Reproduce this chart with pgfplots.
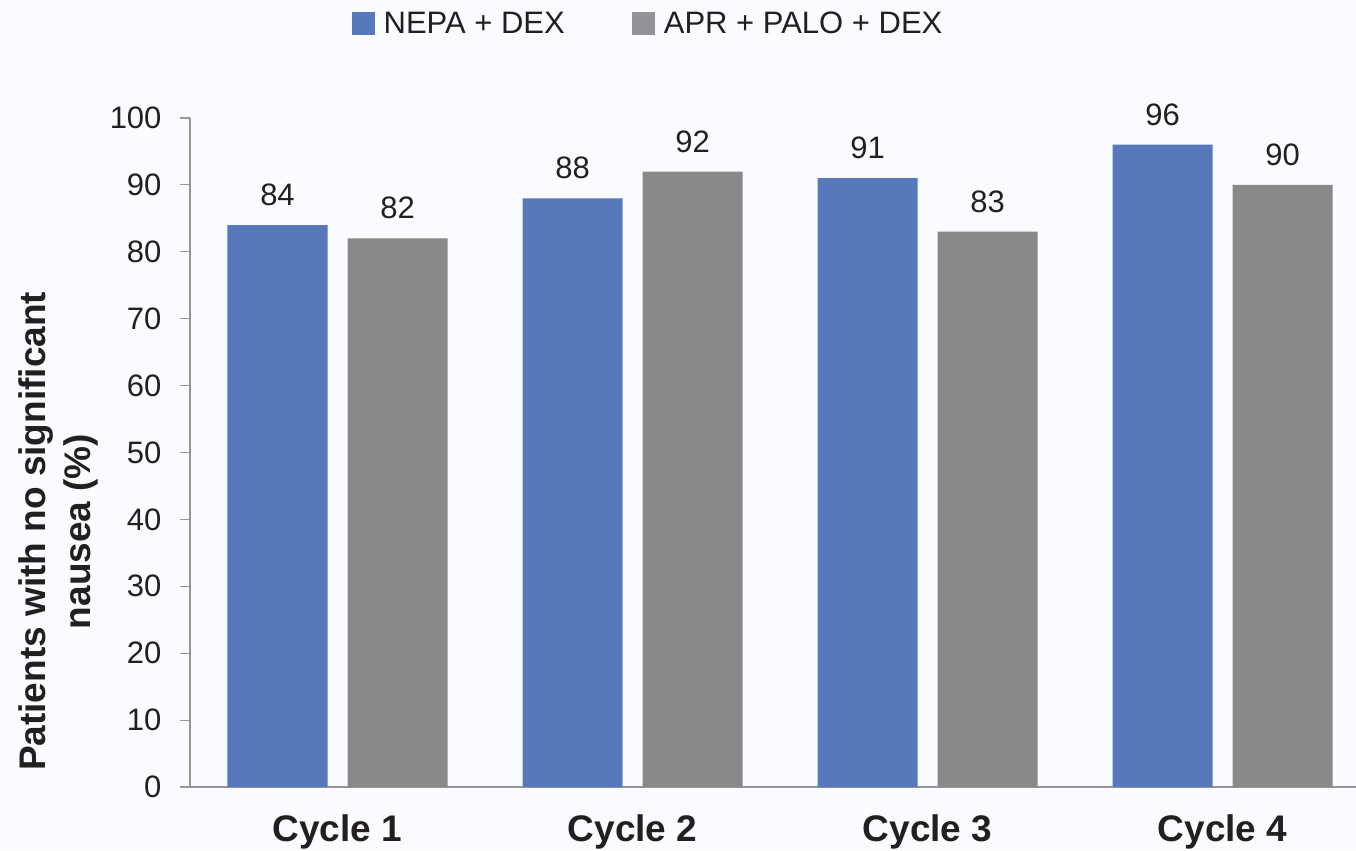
\documentclass[border=0pt]{standalone}
\usepackage{fontspec}
\setmainfont{Liberation Sans}
\usepackage{pgfplots}
\pgfplotsset{compat=1.18}

\definecolor{nepa}{RGB}{87,121,188}
\definecolor{apr}{RGB}{137,137,137}
\definecolor{aprkey}{RGB}{146,148,151}
\definecolor{axisgray}{RGB}{150,150,150}
\definecolor{txt}{RGB}{35,31,32}
\definecolor{bg}{RGB}{250,251,254}

\begin{document}
\begin{tikzpicture}[x=1bp,y=1bp]
\path[use as bounding box, fill=bg] (-190,-63) rectangle (1166,787);
\begin{axis}[
  at={(0,0)}, anchor=south west,
  scale only axis, width=1166bp, height=669bp,
  xmin=-0.5, xmax=3.4525, ymin=0, ymax=100,
  axis x line*=bottom, axis y line*=left,
  axis line style={axisgray, line width=1.2bp},
  every tick/.style={axisgray, line width=1.2bp},
  ytick={0,10,...,100},
  tick align=outside,
  major tick length=10bp,
  xtick={0,1,2,3},
  xticklabels={Cycle 1,Cycle 2,Cycle 3,Cycle 4},
  x tick style={draw=none},
  extra x ticks={-0.5,0.5,1.5,2.5},
  extra x tick labels={},
  extra x tick style={tick style={axisgray, line width=1.2bp}, major tick length=10bp},
  /pgf/number format/assume math mode=true,
  yticklabel style={font=\fontsize{31bp}{37bp}\selectfont, text=txt, xshift=-15bp},
  xticklabel style={font=\fontsize{37bp}{44bp}\selectfont\bfseries, text=txt, yshift=-14bp},
  ylabel={Patients with no significant\\nausea (\%)},
  y label style={at={(axis description cs:-0.113,0.382)}, anchor=center,
    align=center, font=\fontsize{37bp}{45bp}\selectfont\bfseries, text=txt},
  legend columns=2,
  legend style={at={(axis description cs:0.3958,1.1413)}, anchor=center,
    draw=none, fill=none, inner sep=0pt,
    font=\fontsize{31bp}{37bp}\selectfont, text=txt,
    /tikz/every odd column/.style={column sep=0bp},
    /tikz/every even column/.style={column sep=58bp},
    nodes={inner xsep=9bp, inner ysep=0bp}},
  clip=false,
]
% NEPA + DEX, left bar of each cycle
\addplot[ybar, bar width=0.339, bar shift=-0.2034, fill=nepa, draw=none,
  area legend, legend image code/.code={\fill[nepa] (0bp,-11.5bp) rectangle (23bp,11.5bp);},
  nodes near coords,
  every node near coord/.style={font=\fontsize{31bp}{37bp}\selectfont,
    text=txt, inner sep=0pt, anchor=south, xshift=-60bp, yshift=19bp}]
  coordinates {(0,84) (1,88) (2,91) (3,96)};
\addlegendentry{NEPA + DEX}
% APR + PALO + DEX, right bar of each cycle
\addplot[ybar, bar width=0.339, bar shift=0.2034, fill=apr, draw=none,
  area legend, legend image code/.code={\fill[aprkey] (0bp,-11.5bp) rectangle (23bp,11.5bp);},
  nodes near coords,
  every node near coord/.style={font=\fontsize{31bp}{37bp}\selectfont,
    text=txt, inner sep=0pt, anchor=south, xshift=60bp, yshift=19bp}]
  coordinates {(0,82) (1,92) (2,83) (3,90)};
\addlegendentry{APR + PALO + DEX}
\end{axis}
\end{tikzpicture}
\end{document}
